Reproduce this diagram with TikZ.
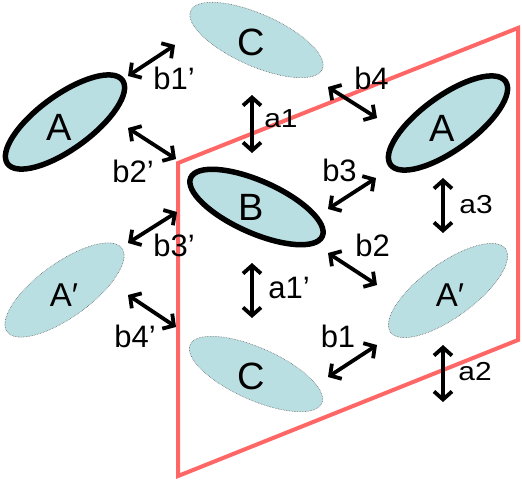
\documentclass[tikz,border=0pt]{standalone}
\usepackage{fontspec}
\setmainfont{Liberation Sans}
\usetikzlibrary{arrows.meta}
\definecolor{ellfill}{RGB}{185,223,226}
\definecolor{planered}{RGB}{255,102,102}
\begin{document}
\begin{tikzpicture}[x=1pt,y=-1pt,
  boldell/.style={fill=ellfill,draw=black,line width=5.5pt},
  faintell/.style={fill=ellfill,draw=gray!80!black,line width=0.6pt,densely dotted},
  big/.style={inner sep=0pt,font=\fontsize{38}{40}\selectfont},
  mid/.style={inner sep=0pt,font=\fontsize{33}{35}\selectfont},
  lbl/.style={inner sep=0pt,font=\fontsize{31}{33}\selectfont},
  albl/.style={inner sep=0pt,font=\fontsize{26}{28}\selectfont},
  rel/.style={line width=3.8pt,{Straight Barb[length=8pt,width=18pt]}-{Straight Barb[length=8pt,width=18pt]}}
]
\useasboundingbox (0,0) rectangle (522,482);
% plane
\coordinate (p1) at (178,163);
\coordinate (p2) at (518,28);
\coordinate (p3) at (518,340);
\coordinate (p4) at (178,476);
\draw[planered,line width=4pt,line join=miter] (p1) -- (p2) -- (p3) -- (p4) -- cycle;
% ellipses
\path[boldell,rotate around={36:(65,122)}] (65,122) ellipse [x radius=71pt,y radius=27pt];
\path[boldell,rotate around={36:(448,123)}] (448,123) ellipse [x radius=71pt,y radius=27pt];
\path[faintell,rotate around={36:(64.5,290)}] (64.5,290) ellipse [x radius=71pt,y radius=27pt];
\path[faintell,rotate around={36:(448,290.5)}] (448,290.5) ellipse [x radius=71pt,y radius=27pt];
\path[faintell,rotate around={-24:(256.5,40)}] (256.5,40) ellipse [x radius=72pt,y radius=26pt];
\path[faintell,rotate around={-24:(256,374)}] (256,374) ellipse [x radius=72pt,y radius=26pt];
\path[boldell,rotate around={-24:(256.5,207)}] (256.5,207) ellipse [x radius=72pt,y radius=26pt];
% ellipse labels
\node[big] (Aleft) at (59,127) {A};
\node[big] (Aright) at (442,128) {A};
\node[big] (Ctop) at (251,42) {C};
\node[big] (Bmid) at (251,207) {B};
\node[big] (Cbot) at (251,376) {C};
\node[mid] (Apleft) at (64,295) {A′};
\node[mid] (Apright) at (450,295) {A′};
% arrow end points
\coordinate (b1s) at (128,76);   \coordinate (b1e) at (175,45);
\coordinate (b2s) at (128,128);  \coordinate (b2e) at (176,159);
\coordinate (a1s) at (252,95);   \coordinate (a1e) at (252,153);
\coordinate (b4s) at (328,87);   \coordinate (b4e) at (377,118);
\coordinate (b3s) at (328,209);  \coordinate (b3e) at (376,178);
\coordinate (a3s) at (443,178);  \coordinate (a3e) at (443,233);
\coordinate (b3ps) at (177,212); \coordinate (b3pe) at (128,243);
\coordinate (b4ps) at (128,295); \coordinate (b4pe) at (176,327);
\coordinate (a1ps) at (252,263); \coordinate (a1pe) at (252,318);
\coordinate (b2qs) at (328,253); \coordinate (b2qe) at (377,285);
\coordinate (b1qs) at (328,377); \coordinate (b1qe) at (377,345);
\coordinate (a2s) at (443,345);  \coordinate (a2e) at (443,402);
\draw[rel] (b1s) -- (b1e);
\draw[rel] (b2s) -- (b2e);
\draw[rel] (a1s) -- (a1e);
\draw[rel] (b4s) -- (b4e);
\draw[rel] (b3s) -- (b3e);
\draw[rel] (a3s) -- (a3e);
\draw[rel] (b3ps) -- (b3pe);
\draw[rel] (b4ps) -- (b4pe);
\draw[rel] (a1ps) -- (a1pe);
\draw[rel] (b2qs) -- (b2qe);
\draw[rel] (b1qs) -- (b1qe);
\draw[rel] (a2s) -- (a2e);
% arrow labels
\node[lbl] (lb1p) at (174,78) {b1’};
\node[lbl] (lb2p) at (133,171) {b2’};
\node[lbl] (lb3p) at (174,245) {b3’};
\node[lbl] (lb4p) at (135,336.5) {b4’};
\node[lbl] (lb4) at (371.5,78.5) {b4};
\node[lbl] (lb3) at (339.5,170) {b3};
\node[lbl] (lb2) at (372.5,245) {b2};
\node[lbl] (lb1) at (338,336) {b1};
\node[albl] (la1) at (281,119) {\scalebox{1.15}[1]{a1}};
\node[albl] (la3) at (476,204.5) {\scalebox{1.15}[1]{a3}};
\node[albl] (la2) at (475,372) {\scalebox{1.15}[1]{a2}};
\node[lbl] (la1p) at (289,288) {a1’};
\end{tikzpicture}
\end{document}
